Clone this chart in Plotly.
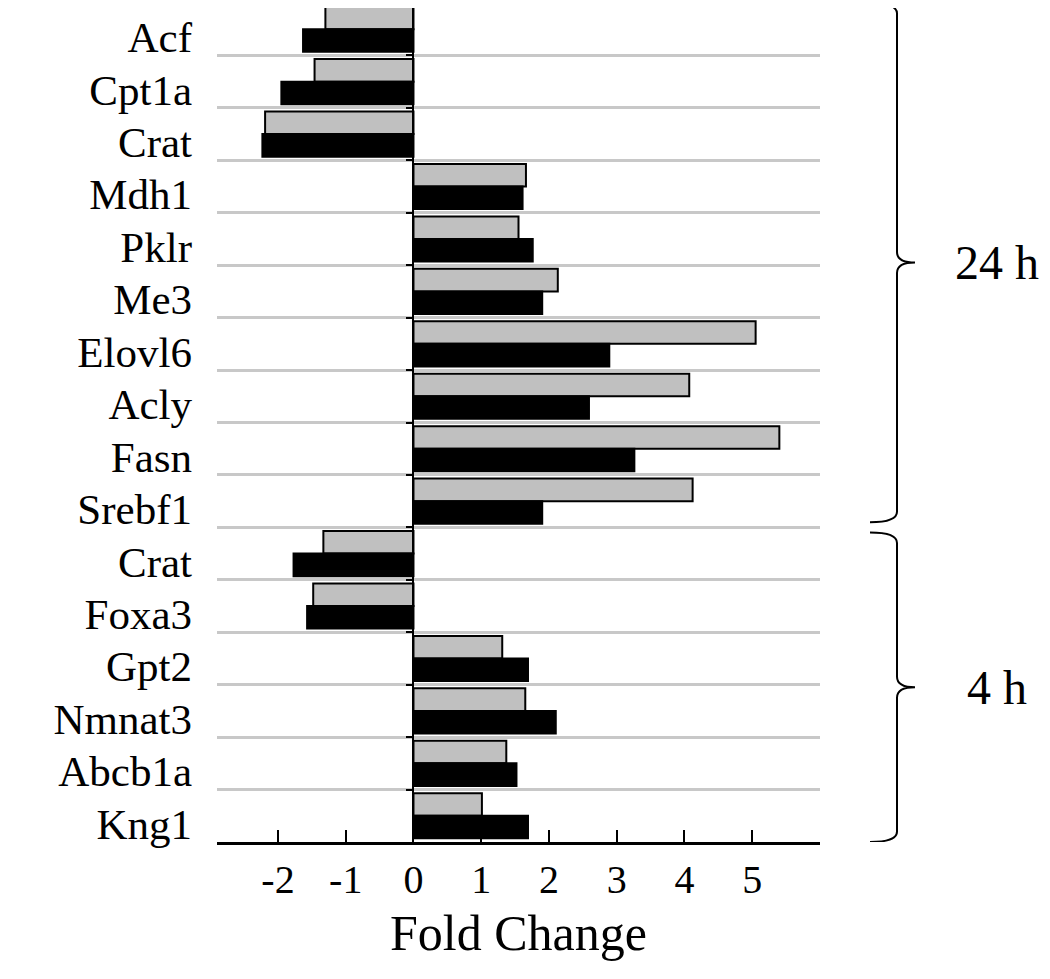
import plotly.graph_objects as go

# genes listed top to bottom
genes = ["Acf", "Cpt1a", "Crat", "Mdh1", "Pklr", "Me3", "Elovl6", "Acly", "Fasn", "Srebf1",
         "Crat", "Foxa3", "Gpt2", "Nmnat3", "Abcb1a", "Kng1"]
gray_vals = [-1.30, -1.46, -2.19, 1.66, 1.55, 2.13, 5.05, 4.07, 5.40, 4.12,
             -1.33, -1.48, 1.31, 1.65, 1.37, 1.01]
black_vals = [-1.63, -1.95, -2.23, 1.61, 1.76, 1.90, 2.89, 2.59, 3.26, 1.90,
              -1.77, -1.57, 1.69, 2.10, 1.52, 1.69]
groups = ["24 h", "4 h"]
group_sizes = [10, 6]
x_ticks = [-2, -1, 0, 1, 2, 3, 4, 5]

FONT = "Liberation Serif"
xr = [-2.9, 6.0]
OFF = 8  # page body margin, keep the figure inside the window so no scrollbars
W, H = 1050 - 2 * OFF, 979 - 2 * OFF
# wanted plot box on the page: x 217..820, y 3..842
L, R, B = 217 - OFF, W - (820 - OFF), H - (842 - OFF)
T = 0
pw = W - L - R
n = len(genes)
row_px = (842 - 3) / n
y_top = -0.5 + (OFF - 3) / row_px  # -0.5 sits at page y=3, just above the plot box

pos = list(range(n))
bounds = [i + 0.5 for i in range(n - 1)]

fig = go.Figure()
fig.add_trace(go.Bar(y=pos, x=gray_vals, orientation="h", name="gray",
                     marker=dict(color="#c0c0c0", line=dict(color="black", width=2))))
fig.add_trace(go.Bar(y=pos, x=black_vals, orientation="h", name="black",
                     marker=dict(color="black", line=dict(color="black", width=2))))
# dummy trace so the zero axis (y2) gets drawn
fig.add_trace(go.Scatter(x=[None], y=[None], yaxis="y2", showlegend=False, hoverinfo="skip"))


def px2paper(px):
    return (px - OFF - L) / pw


def brace(y0, y1):
    xe, xv, xp = px2paper(870), px2paper(897), px2paper(915)
    ym = (y0 + y1) / 2
    d = 0.2
    return (f"M {xe},{y0} Q {xv},{y0} {xv},{y0 + d} L {xv},{ym - d} "
            f"Q {xv},{ym} {xp},{ym} Q {xv},{ym} {xv},{ym + d} "
            f"L {xv},{y1 - d} Q {xv},{y1} {xe},{y1}")


start = -0.5
for g, k in zip(groups, group_sizes):
    end = start + k
    y0 = start + (0.1 if start > -0.5 else 0.0)
    y1 = end - (0.1 if end < n - 0.5 else 0.0)
    fig.add_shape(type="path", path=brace(y0, y1), xref="paper", yref="y",
                  line=dict(color="black", width=2))
    fig.add_annotation(x=px2paper(997), y=(y0 + y1) / 2, xref="paper", yref="y",
                       xanchor="center", yanchor="middle",
                       text=g, showarrow=False, font=dict(family=FONT, size=48, color="black"))
    start = end

fig.update_layout(
    width=W, height=H,
    margin=dict(l=L, r=R, t=T, b=B, pad=0, autoexpand=False),
    paper_bgcolor="white", plot_bgcolor="white",
    barmode="group", bargap=0.14, bargroupgap=0,
    showlegend=False,
    font=dict(family=FONT, color="black"),
    xaxis=dict(range=xr, tickvals=x_ticks, ticktext=[str(v) for v in x_ticks],
               ticks="inside", ticklen=12, tickwidth=2, tickcolor="black",
               showline=True, linecolor="black", linewidth=3,
               showgrid=False, zeroline=False, automargin=False,
               tickfont=dict(family=FONT, size=40, color="black"),
               title=dict(text="Fold Change", font=dict(family=FONT, size=50, color="black"),
                          standoff=14)),
    yaxis=dict(range=[n - 0.5, y_top], tickvals=[p + 0.15 for p in pos], ticktext=genes,
               ticks="", showline=False, showgrid=False, zeroline=False,
               ticklabelstandoff=24, automargin=False,
               tickfont=dict(family=FONT, size=43, color="black"),
               minor=dict(tickmode="array", tickvals=bounds, showgrid=True,
                          gridcolor="#c8c8c8", gridwidth=3, ticks="")),
    yaxis2=dict(range=[n - 0.5, y_top], overlaying="y", anchor="free",
                position=(0 - xr[0]) / (xr[1] - xr[0]), side="left", automargin=False,
                showline=True, linecolor="black", linewidth=2,
                tickmode="array", tickvals=bounds, ticks="outside", ticklen=6,
                tickwidth=2, tickcolor="black", showticklabels=False,
                showgrid=False, zeroline=False),
)

fig.write_html("out.html")
